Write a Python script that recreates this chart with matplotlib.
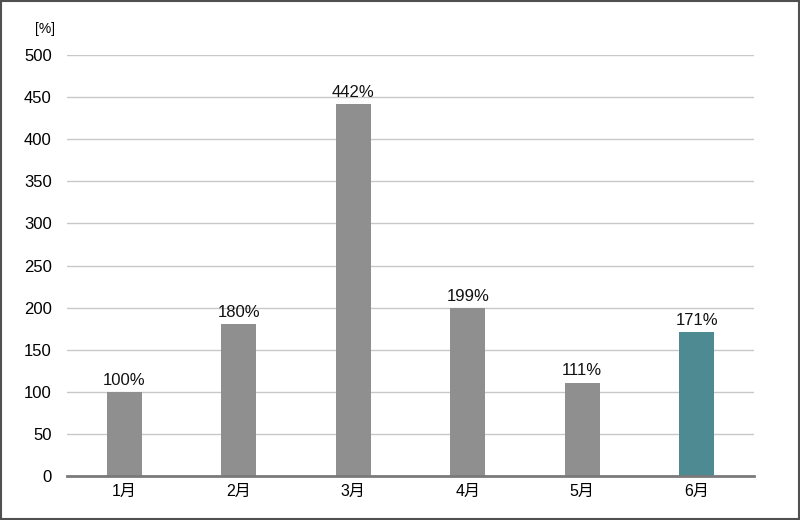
import matplotlib
matplotlib.use("Agg")
import matplotlib.pyplot as plt
from matplotlib.patches import Rectangle

plt.rcParams['font.family'] = ['Liberation Sans', 'Noto Sans CJK JP', 'DejaVu Sans']

months = ['1月', '2月', '3月', '4月', '5月', '6月']
values = [100, 180, 442, 199, 111, 171]
bar_colors = ['#8f8f8f'] * 5 + ['#4e8a92']

fig = plt.figure(figsize=(8, 5.2), dpi=100)
ax = fig.add_axes([67 / 800, 44 / 520, 687 / 800, 421 / 520])

ax.bar(range(len(months)), values, width=0.305, color=bar_colors, zorder=3)
for i, v in enumerate(values):
    ax.annotate(f'{v}%', (i, v), xytext=(0, 3), textcoords='offset points',
                ha='center', va='bottom', fontsize=12, color='#111111')

ax.set_xlim(-0.5, len(months) - 0.5)
ax.set_ylim(0, 500)
ax.set_yticks(range(0, 501, 50))
ax.set_xticks(range(len(months)))
ax.set_xticklabels(months, fontsize=11.5)
ax.tick_params(axis='y', labelsize=12, length=0, pad=11)
ax.tick_params(axis='x', length=0, pad=6)
ax.grid(axis='y', color='#c8c8c8', linewidth=1, zorder=0)
for s in ['top', 'right', 'left']:
    ax.spines[s].set_visible(False)
ax.spines['bottom'].set_color('#7a7a7a')
ax.spines['bottom'].set_linewidth(2)
ax.spines['bottom'].set_zorder(4)

fig.text(45 / 800, 1 - 29 / 520, '[%]', fontsize=10, ha='center', va='center')

fig.patches.append(Rectangle((0.001, 0.001), 0.998, 0.997, transform=fig.transFigure,
                             fill=False, edgecolor='#505050', linewidth=1.5))

fig.savefig('out.png', dpi=100)
